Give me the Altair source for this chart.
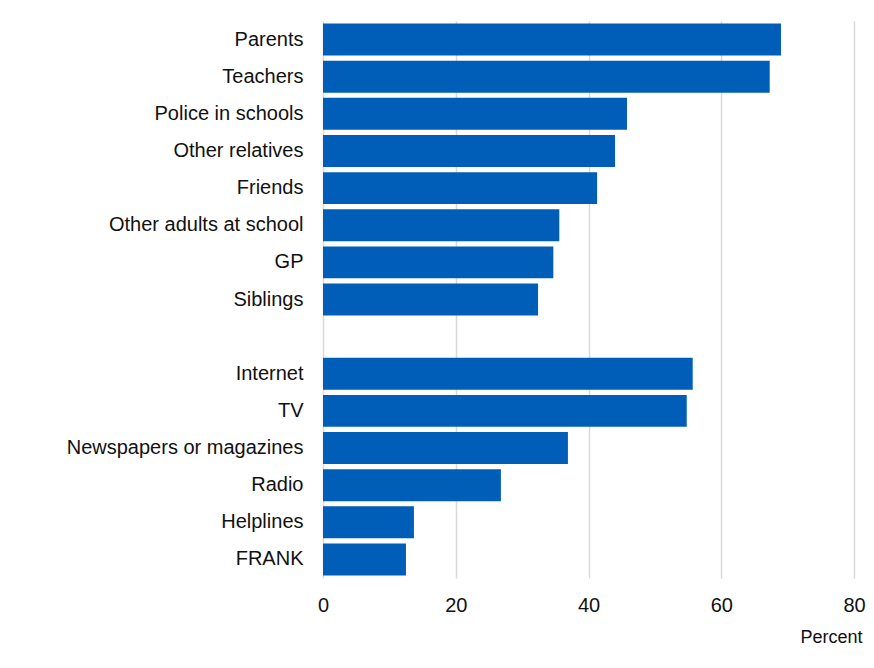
import altair as alt
import pandas as pd

categories = ["Parents", "Teachers", "Police in schools", "Other relatives", "Friends",
              "Other adults at school", "GP", "Siblings",
              "Internet", "TV", "Newspapers or magazines", "Radio", "Helplines", "FRANK"]
values = [69.0, 67.3, 45.8, 44.0, 41.3, 35.6, 34.7, 32.4,
          55.7, 54.8, 36.9, 26.8, 13.7, 12.5]

# order on the axis, with a blank row separating the two groups
axis_order = categories[:8] + [" "] + categories[8:]

df = pd.DataFrame({"source": categories, "percent": values})

chart = alt.Chart(df).mark_bar(color="#005EB8").encode(
    x=alt.X("percent:Q",
            scale=alt.Scale(domain=[0, 80], nice=False),
            axis=alt.Axis(values=[0, 20, 40, 60, 80], title="Percent",
                          grid=True, gridColor="#d9d9d9", gridWidth=1.5,
                          domain=False, ticks=False, labelFlush=False,
                          labelFontSize=20, labelFont="Liberation Sans", labelColor="#111111",
                          labelPadding=17,
                          titleFontSize=18, titleFont="Liberation Sans", titleColor="#111111",
                          titleFontWeight="normal",
                          titleX=539, titleY=64, titleAlign="right",
                          titleBaseline="alphabetic")),
    y=alt.Y("source:N",
            scale=alt.Scale(domain=axis_order, paddingInner=0.14, paddingOuter=0.07),
            axis=alt.Axis(title=None, domain=False, ticks=False, grid=False,
                          labelFontSize=20, labelFont="Liberation Sans", labelColor="#111111",
                          labelPadding=20, labelLimit=400)),
).properties(
    width=531,
    height=557,
    autosize=alt.AutoSizeParams(type="none"),
    padding={"left": 315, "top": 13, "right": 12, "bottom": 80},
    background="white",
).configure_view(stroke=None)

chart.save("out.html", embed_options={"renderer": "svg", "actions": False})
